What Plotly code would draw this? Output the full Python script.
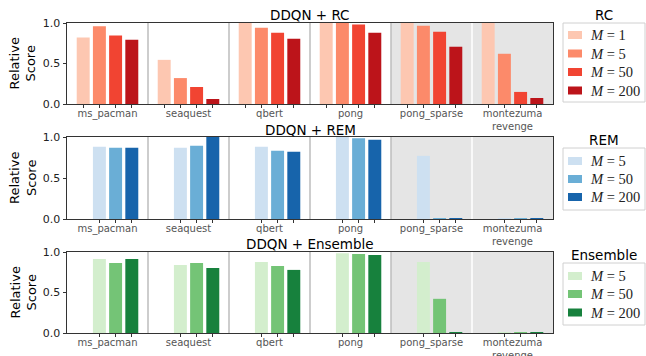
import numpy as np
import plotly.graph_objects as go

# Games on the x axis
games = ["ms_pacman", "seaquest", "qbert", "pong", "pong_sparse", "montezuma<br>revenge"]

# Relative scores, DDQN + RC, one list per ensemble size
rc_m1 = [0.82, 0.545, 1.0, 1.0, 1.0, 1.0]
rc_m5 = [0.96, 0.32, 0.94, 1.0, 0.967, 0.62]
rc_m50 = [0.847, 0.21, 0.88, 0.983, 0.893, 0.149]
rc_m200 = [0.793, 0.062, 0.806, 0.88, 0.707, 0.074]

# DDQN + REM
rem_m5 = [0.881, 0.869, 0.881, 1.0, 0.77, 0.004]
rem_m50 = [0.869, 0.893, 0.832, 0.984, 0.008, 0.008]
rem_m200 = [0.869, 1.0, 0.82, 0.967, 0.008, 0.008]

# DDQN + Ensemble
ens_m5 = [0.914, 0.84, 0.877, 0.984, 0.877, 0.004]
ens_m50 = [0.865, 0.865, 0.828, 0.975, 0.422, 0.004]
ens_m200 = [0.914, 0.803, 0.779, 0.963, 0.008, 0.008]

W, H = 646, 356
px = lambda v: v / W
py = lambda v: 1 - v / H

x_dom = [px(67), px(553)]
panels = [
    dict(title="DDQN + RC", legend_title="RC", top=23, bottom=104,
         series=[("<i>M</i> = 1", rc_m1, "#fdc7b1", 0),
                 ("<i>M</i> = 5", rc_m5, "#fc8a6a", 1),
                 ("<i>M</i> = 50", rc_m50, "#f14432", 2),
                 ("<i>M</i> = 200", rc_m200, "#bc141a", 3)],
         title_y=15, ltitle_y=15, box=(23, 102), rows=[35, 53.5, 72, 90.5]),
    dict(title="DDQN + REM", legend_title="REM", top=137, bottom=219,
         series=[("<i>M</i> = 5", rem_m5, "#cde0f1", 1),
                 ("<i>M</i> = 50", rem_m50, "#6aaed6", 2),
                 ("<i>M</i> = 200", rem_m200, "#1764ab", 3)],
         title_y=130, ltitle_y=140, box=(148, 210), rows=[161, 179, 197]),
    dict(title="DDQN + Ensemble", legend_title="Ensemble", top=252, bottom=333,
         series=[("<i>M</i> = 5", ens_m5, "#d3eecd", 1),
                 ("<i>M</i> = 50", ens_m50, "#74c476", 2),
                 ("<i>M</i> = 200", ens_m200, "#17813d", 3)],
         title_y=244, ltitle_y=255, box=(263, 325), rows=[276, 294, 312.5]),
]

idx = np.arange(len(games))
slot_offset = lambda s: -0.3 + 0.2 * s
bar_w = 0.16

fig = go.Figure()
shapes = []
annotations = []
layout_axes = {}

for p_i, p in enumerate(panels, start=1):
    xa = "x" if p_i == 1 else f"x{p_i}"
    ya = "y" if p_i == 1 else f"y{p_i}"
    minor_vals = []
    for name, vals, color, slot in p["series"]:
        xs = idx + slot_offset(slot)
        minor_vals.extend(xs.tolist())
        fig.add_trace(go.Bar(
            x=xs, y=vals, width=bar_w, name=name, marker_color=color,
            marker_line_width=0, xaxis=xa, yaxis=ya, showlegend=False,
        ))

    # shaded sparse-reward games and group separators
    shapes.append(dict(type="rect", xref=xa, yref=f"{ya} domain", x0=3.5, x1=5.5,
                       y0=0, y1=1, fillcolor="#e5e5e5", line_width=0, layer="below"))
    for b in [0.5, 1.5, 2.5, 3.5]:
        shapes.append(dict(type="line", xref=xa, yref=f"{ya} domain", x0=b, x1=b,
                           y0=0, y1=1, line=dict(color="#bdbdbd", width=1.5), layer="below"))
    shapes.append(dict(type="line", xref=xa, yref=f"{ya} domain", x0=4.5, x1=4.5,
                       y0=0, y1=1, line=dict(color="white", width=1.5), layer="below"))

    xkey = "xaxis" if p_i == 1 else f"xaxis{p_i}"
    ykey = "yaxis" if p_i == 1 else f"yaxis{p_i}"
    layout_axes[xkey] = dict(
        domain=x_dom, anchor=ya, range=[-0.5, 5.5], tickmode="array",
        tickvals=idx.tolist(), ticktext=games, ticks="", showgrid=False,
        showline=True, mirror=True, linecolor="#333333", linewidth=1,
        tickfont=dict(family="DejaVu Sans", size=10, color="#555555"),
        zeroline=False, automargin=False,
        minor=dict(tickmode="array", tickvals=sorted(minor_vals), ticks="outside",
                   ticklen=3, tickcolor="#333333", tickwidth=1, showgrid=False),
    )
    layout_axes[ykey] = dict(
        domain=[py(p["bottom"]), py(p["top"])], anchor=xa, range=[0, 1],
        tickmode="array", tickvals=[0, 0.5, 1.0], ticktext=["0.0", "0.5", "1.0"],
        ticks="outside", ticklen=3.5, tickcolor="#333333", showgrid=False,
        showline=True, mirror=True, linecolor="#333333", linewidth=1,
        tickfont=dict(family="DejaVu Sans", size=11, color="#222222"),
        zeroline=False, automargin=False,
    )

    annotations.append(dict(text=p["title"], x=px(310), y=py(p["title_y"]),
                            xref="paper", yref="paper", showarrow=False,
                            xanchor="center", yanchor="middle",
                            font=dict(family="DejaVu Sans", size=13.5, color="black")))
    annotations.append(dict(text="Relative<br>Score", x=px(23),
                            y=py((p["top"] + p["bottom"]) / 2), xref="paper", yref="paper",
                            textangle=-90, showarrow=False,
                            xanchor="center", yanchor="middle",
                            font=dict(family="DejaVu Sans", size=13, color="black")))

    # legend panel to the right of each subplot
    annotations.append(dict(text=p["legend_title"], x=px(604), y=py(p["ltitle_y"]),
                            xref="paper", yref="paper", showarrow=False,
                            xanchor="center", yanchor="middle",
                            font=dict(family="DejaVu Sans", size=13.5, color="black")))
    b_top, b_bot = p["box"]
    shapes.append(dict(type="rect", xref="paper", yref="paper",
                       x0=px(563), x1=px(645), y0=py(b_bot), y1=py(b_top),
                       fillcolor="white", line=dict(color="#d0d0d0", width=1)))
    for (name, _, color, _), ry in zip(p["series"], p["rows"]):
        shapes.append(dict(type="rect", xref="paper", yref="paper",
                           x0=px(568), x1=px(582), y0=py(ry + 4), y1=py(ry - 4),
                           fillcolor=color, line_width=0))
        annotations.append(dict(text=name, x=px(588), y=py(ry), xref="paper", yref="paper",
                                showarrow=False, xanchor="left", yanchor="middle",
                                font=dict(family="Liberation Serif", size=14.5,
                                          color="#222222")))

fig.update_layout(
    width=W, height=H, margin=dict(l=0, r=0, t=0, b=0),
    paper_bgcolor="white", plot_bgcolor="rgba(0,0,0,0)",
    barmode="overlay", shapes=shapes, annotations=annotations,
    showlegend=False, **layout_axes,
)

fig.write_html("out.html")
